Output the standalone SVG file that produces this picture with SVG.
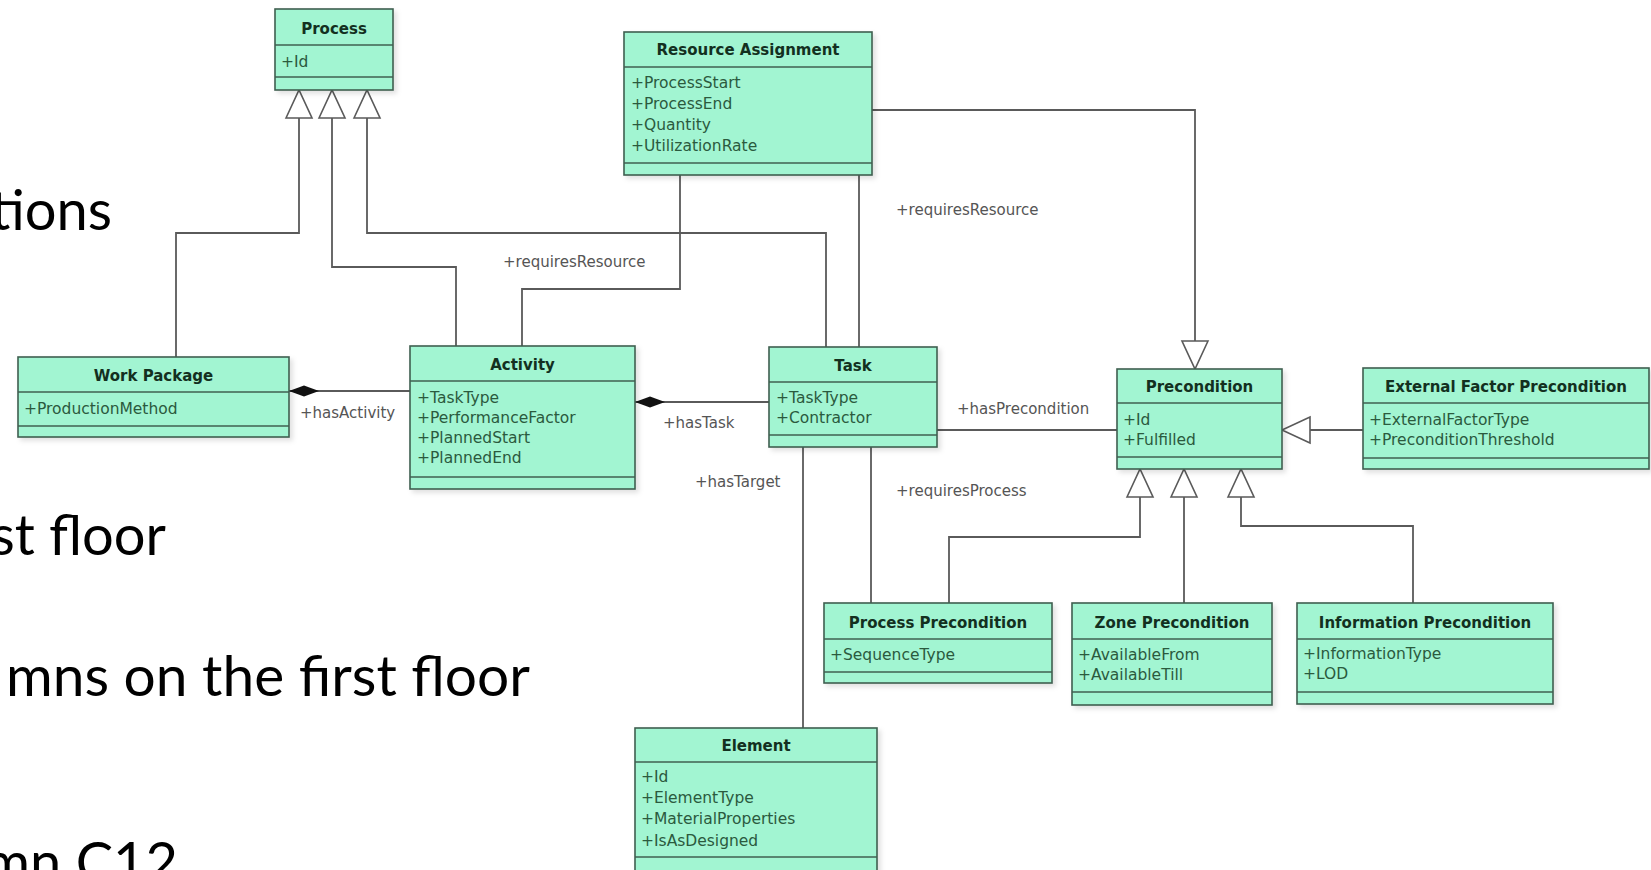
<svg xmlns="http://www.w3.org/2000/svg" width="1651" height="870" viewBox="0 0 1651 870">
  <defs>
    <style>
      .box { fill: #a2f5d2; stroke: #3f5f50; stroke-width: 1.6; }
      .sep { stroke: #3f5f50; stroke-width: 1.6; }
      .title { font-family: "DejaVu Sans", sans-serif; font-size: 15px; font-weight: bold; fill: #13301f; text-anchor: middle; }
      .attr { font-family: "DejaVu Sans", sans-serif; font-size: 15.5px; fill: #2b5a3e; }
      .edge { fill: none; stroke: #5a5a5a; stroke-width: 1.8; }
      .gen { marker-end: url(#hollowTri); }
      .comp { marker-start: url(#diamond); }
      .lbl { font-family: "DejaVu Sans", sans-serif; font-size: 15px; fill: #555555; }
      .slide { font-family: Lato, "Open Sans", sans-serif; font-size: 56px; fill: #000000; text-anchor: end; }
    </style>
    <filter id="shadow" x="-10%" y="-10%" width="130%" height="140%">
      <feDropShadow dx="3" dy="3" stdDeviation="2.5" flood-color="#000000" flood-opacity="0.12"/>
    </filter>
    <marker id="hollowTri" markerUnits="userSpaceOnUse" markerWidth="32" markerHeight="30" refX="29" refY="14" orient="auto" overflow="visible">
      <path d="M1,1 L29,14 L1,27 Z" fill="#ffffff" stroke="#5a5a5a" stroke-width="1.6"/>
    </marker>
    <marker id="diamond" markerUnits="userSpaceOnUse" markerWidth="32" markerHeight="13" refX="0" refY="6" orient="auto" overflow="visible">
      <path d="M0,6 L15,0.5 L30,6 L15,11.5 Z" fill="#111111"/>
    </marker>
  </defs>

  <rect width="1651" height="870" fill="#ffffff"/>

  <!-- slide bullet text partly hidden at the left margin -->
  <g id="slide-text">
    <text class="slide" x="112" y="230">tions</text>
    <text class="slide" x="166" y="555">st floor</text>
    <text class="slide" x="530" y="696" textLength="524" lengthAdjust="spacingAndGlyphs">mns on the first floor</text>
    <text class="slide" x="178" y="882">mn C12</text>
  </g>

  <!-- connectors -->
  <g id="connectors">
    <path class="edge gen" d="M176,357 V233 H299 V90"/>
    <path class="edge gen" d="M456,346 V267 H332 V90"/>
    <path class="edge gen" d="M826,347 V233 H367 V90"/>
    <path class="edge" d="M680,175 V289 H522 V346"/>
    <path class="edge" d="M859,175 V347"/>
    <path class="edge gen" d="M872,110 H1195 V369"/>
    <path class="edge comp" d="M289,391 H410"/>
    <path class="edge comp" d="M635,402 H769"/>
    <path class="edge" d="M937,430 H1117"/>
    <path class="edge" d="M803,447 V728"/>
    <path class="edge" d="M871,447 V603"/>
    <path class="edge gen" d="M949,603 V537 H1140 V469"/>
    <path class="edge gen" d="M1184,603 V469"/>
    <path class="edge gen" d="M1413,603 V526 H1241 V469"/>
    <path class="edge gen" d="M1363,430 H1282"/>

    <text class="lbl" x="503" y="267">+requiresResource</text>
    <text class="lbl" x="896" y="215">+requiresResource</text>
    <text class="lbl" x="300" y="418">+hasActivity</text>
    <text class="lbl" x="663" y="428">+hasTask</text>
    <text class="lbl" x="957" y="414">+hasPrecondition</text>
    <text class="lbl" x="695" y="487">+hasTarget</text>
    <text class="lbl" x="896" y="496">+requiresProcess</text>
  </g>

  <!-- classes -->
  <g id="node-process">
    <rect class="box" x="275" y="9" width="118" height="81" filter="url(#shadow)"/>
    <line class="sep" x1="275" y1="45" x2="393" y2="45"/>
    <line class="sep" x1="275" y1="77" x2="393" y2="77"/>
    <text class="title" x="334" y="34">Process</text>
    <text class="attr" x="281" y="67">+Id</text>
  </g>

  <g id="node-resource-assignment">
    <rect class="box" x="624" y="32" width="248" height="143" filter="url(#shadow)"/>
    <line class="sep" x1="624" y1="67" x2="872" y2="67"/>
    <line class="sep" x1="624" y1="163" x2="872" y2="163"/>
    <text class="title" x="748" y="55">Resource Assignment</text>
    <text class="attr" x="631" y="88">+ProcessStart</text>
    <text class="attr" x="631" y="109">+ProcessEnd</text>
    <text class="attr" x="631" y="130">+Quantity</text>
    <text class="attr" x="631" y="151">+UtilizationRate</text>
  </g>

  <g id="node-work-package">
    <rect class="box" x="18" y="357" width="271" height="80" filter="url(#shadow)"/>
    <line class="sep" x1="18" y1="392" x2="289" y2="392"/>
    <line class="sep" x1="18" y1="426" x2="289" y2="426"/>
    <text class="title" x="153.5" y="381">Work Package</text>
    <text class="attr" x="24" y="414">+ProductionMethod</text>
  </g>

  <g id="node-activity">
    <rect class="box" x="410" y="346" width="225" height="143" filter="url(#shadow)"/>
    <line class="sep" x1="410" y1="381" x2="635" y2="381"/>
    <line class="sep" x1="410" y1="477" x2="635" y2="477"/>
    <text class="title" x="522.5" y="370">Activity</text>
    <text class="attr" x="417" y="403">+TaskType</text>
    <text class="attr" x="417" y="423">+PerformanceFactor</text>
    <text class="attr" x="417" y="443">+PlannedStart</text>
    <text class="attr" x="417" y="463">+PlannedEnd</text>
  </g>

  <g id="node-task">
    <rect class="box" x="769" y="347" width="168" height="100" filter="url(#shadow)"/>
    <line class="sep" x1="769" y1="382" x2="937" y2="382"/>
    <line class="sep" x1="769" y1="435" x2="937" y2="435"/>
    <text class="title" x="853" y="371">Task</text>
    <text class="attr" x="776" y="403">+TaskType</text>
    <text class="attr" x="776" y="423">+Contractor</text>
  </g>

  <g id="node-precondition">
    <rect class="box" x="1117" y="369" width="165" height="100" filter="url(#shadow)"/>
    <line class="sep" x1="1117" y1="403" x2="1282" y2="403"/>
    <line class="sep" x1="1117" y1="457" x2="1282" y2="457"/>
    <text class="title" x="1199.5" y="392">Precondition</text>
    <text class="attr" x="1123" y="425">+Id</text>
    <text class="attr" x="1123" y="445">+Fulfilled</text>
  </g>

  <g id="node-external-factor-precondition">
    <rect class="box" x="1363" y="368" width="286" height="101" filter="url(#shadow)"/>
    <line class="sep" x1="1363" y1="403" x2="1649" y2="403"/>
    <line class="sep" x1="1363" y1="458" x2="1649" y2="458"/>
    <text class="title" x="1506" y="392">External Factor Precondition</text>
    <text class="attr" x="1369" y="425">+ExternalFactorType</text>
    <text class="attr" x="1369" y="445">+PreconditionThreshold</text>
  </g>

  <g id="node-process-precondition">
    <rect class="box" x="824" y="603" width="228" height="80" filter="url(#shadow)"/>
    <line class="sep" x1="824" y1="639" x2="1052" y2="639"/>
    <line class="sep" x1="824" y1="672" x2="1052" y2="672"/>
    <text class="title" x="938" y="628">Process Precondition</text>
    <text class="attr" x="830" y="660">+SequenceType</text>
  </g>

  <g id="node-zone-precondition">
    <rect class="box" x="1072" y="603" width="200" height="102" filter="url(#shadow)"/>
    <line class="sep" x1="1072" y1="639" x2="1272" y2="639"/>
    <line class="sep" x1="1072" y1="692" x2="1272" y2="692"/>
    <text class="title" x="1172" y="628">Zone Precondition</text>
    <text class="attr" x="1078" y="660">+AvailableFrom</text>
    <text class="attr" x="1078" y="680">+AvailableTill</text>
  </g>

  <g id="node-information-precondition">
    <rect class="box" x="1297" y="603" width="256" height="101" filter="url(#shadow)"/>
    <line class="sep" x1="1297" y1="639" x2="1553" y2="639"/>
    <line class="sep" x1="1297" y1="692" x2="1553" y2="692"/>
    <text class="title" x="1425" y="628">Information Precondition</text>
    <text class="attr" x="1303" y="659">+InformationType</text>
    <text class="attr" x="1303" y="679">+LOD</text>
  </g>

  <g id="node-element">
    <rect class="box" x="635" y="728" width="242" height="150" filter="url(#shadow)"/>
    <line class="sep" x1="635" y1="762" x2="877" y2="762"/>
    <line class="sep" x1="635" y1="857" x2="877" y2="857"/>
    <text class="title" x="756" y="751">Element</text>
    <text class="attr" x="641" y="782">+Id</text>
    <text class="attr" x="641" y="803">+ElementType</text>
    <text class="attr" x="641" y="824">+MaterialProperties</text>
    <text class="attr" x="641" y="846">+IsAsDesigned</text>
  </g>
</svg>
